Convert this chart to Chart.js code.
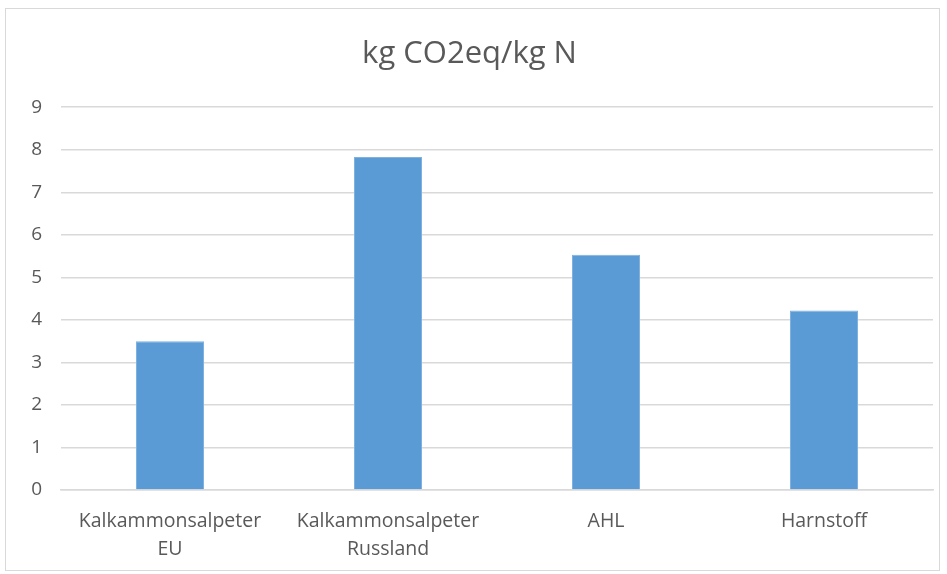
<!DOCTYPE html>
<html>
<head>
<meta charset="utf-8">
<script src="https://cdn.jsdelivr.net/npm/chart.js@4/dist/chart.umd.min.js"></script>
<style>
  html, body { margin: 0; padding: 0; background: #fff; }
  #rahmen {
    position: absolute; left: 5px; top: 8px;
    width: 933px; height: 561px;
    border: 1px solid #d9d9d9;
  }
  canvas { display: block; }
</style>
</head>
<body>
<div id="rahmen"><canvas id="grafik" width="933" height="561"></canvas></div>
<script>
// === Daten ===
const titel = 'kg CO2eq/kg N';
const kategorien = [
  ['Kalkammonsalpeter', 'EU'],
  ['Kalkammonsalpeter', 'Russland'],
  'AHL',
  'Harnstoff'
];
const werte = [3.5, 7.83, 5.53, 4.22];
const yMin = 0, yMax = 9, yStep = 1;

const grau = '#595959';
const schrift = "'Open Sans', 'Liberation Sans', sans-serif";

// === Grafik ===
new Chart(document.getElementById('grafik').getContext('2d'), {
  type: 'bar',
  data: {
    labels: kategorien,
    datasets: [{
      data: werte,
      backgroundColor: '#5b9bd5',
      borderColor: '#7fb2e0',
      borderWidth: 1,
      barPercentage: 1,
      categoryPercentage: 0.312
    }]
  },
  options: {
    responsive: false,
    animation: false,
    layout: { padding: { left: 0, right: 6, top: 0, bottom: 0 } },
    plugins: {
      legend: { display: false },
      tooltip: { enabled: false },
      title: {
        display: true,
        text: titel,
        color: grau,
        font: { family: schrift, size: 31, weight: 'normal' },
        padding: { top: 27, bottom: 34 }
      }
    },
    scales: {
      x: {
        grid: { display: false, drawTicks: false },
        border: { display: true, color: '#d9d9d9', width: 1.5 },
        ticks: {
          color: grau,
          font: { family: schrift, size: 19.5, lineHeight: 1.45 },
          padding: 17,
          maxRotation: 0,
          autoSkip: false
        },
        afterFit: s => { s.height = 80; }
      },
      y: {
        min: yMin,
        max: yMax,
        grid: { color: '#d9d9d9', lineWidth: 1.5, drawTicks: false },
        border: { display: false },
        ticks: {
          stepSize: yStep,
          color: grau,
          font: { family: schrift, size: 19 },
          padding: 19
        },
        afterFit: s => { s.width = 55; }
      }
    }
  }
});
</script>
</body>
</html>
